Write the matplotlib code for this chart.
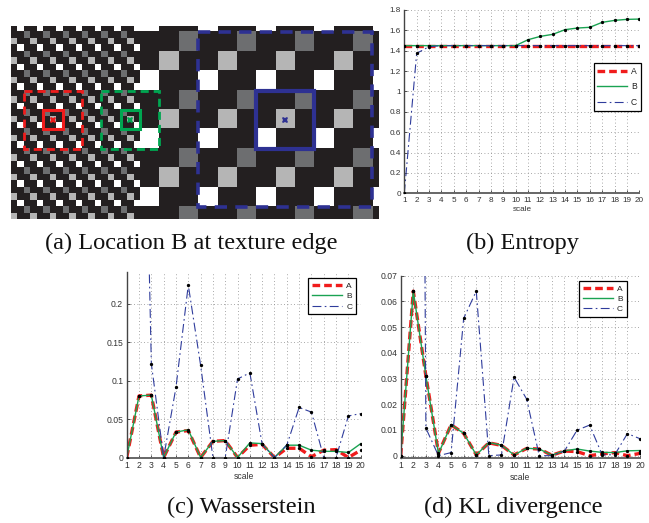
import numpy as np
import matplotlib
matplotlib.use("Agg")
import matplotlib.pyplot as plt
from matplotlib.patches import Rectangle

W, H = 649, 523

# ---- panel (a): texture, tiles of colour codes (0 black, 1 dark grey, 2 light grey, 3 white)
fine_tile = [[0, 3, 0],
             [0, 0, 1],
             [2, 0, 0]]
coarse_tile = [[0, 1, 0],
               [2, 0, 0],
               [0, 0, 3]]
palette = ["#231f20", "#6d6e70", "#b5b5b5", "#ffffff"]

# ---- curves: scale 1..20
scales = list(range(1, 21))

ent_A = [1.45, 1.45, 1.45, 1.45, 1.45, 1.45, 1.45, 1.45, 1.45, 1.45,
         1.45, 1.45, 1.45, 1.45, 1.45, 1.45, 1.45, 1.45, 1.45, 1.45]
ent_B = [1.45, 1.45, 1.45, 1.45, 1.45, 1.45, 1.45, 1.45, 1.45, 1.45,
         1.508, 1.541, 1.561, 1.607, 1.623, 1.63, 1.679, 1.698, 1.708, 1.711]
ent_C = [0.0, 1.374, 1.44, 1.45, 1.45, 1.45, 1.45, 1.45, 1.45, 1.45,
         1.45, 1.45, 1.45, 1.45, 1.45, 1.45, 1.45, 1.45, 1.45, 1.45]

was_A = [0, 0.080, 0.081, 0, 0.033, 0.035, 0, 0.021, 0.022, 0,
         0.016, 0.017, 0, 0.012, 0.012, 0.001, 0.0095, 0.0102, 0.0, 0.0095]
was_B = [0, 0.080, 0.081, 0, 0.033, 0.036, 0, 0.021, 0.022, 0,
         0.019, 0.018, 0, 0.016, 0.016, 0.0095, 0.008, 0.008, 0.0065, 0.018]
was_C = [0.9, 0.85, 0.122, 0, 0.091, 0.224, 0.12, 0, 0, 0.102,
         0.110, 0.017, 0, 0.016, 0.065, 0.059, 0, 0, 0.054, 0.057]

kl_A = [0, 0.064, 0.031, 0.001, 0.012, 0.0087, 0.0003, 0.005, 0.004, 0.0003,
        0.0028, 0.0026, 0.0002, 0.0018, 0.0016, 0.0, 0.0007, 0.0012, 0.0, 0.0009]
kl_B = [0, 0.064, 0.031, 0.0008, 0.012, 0.0087, 0.0003, 0.0051, 0.0041, 0.0003,
        0.0029, 0.0026, 0.0002, 0.0019, 0.0026, 0.0018, 0.0013, 0.0012, 0.0019, 0.002]
kl_C = [0.9, 0.86, 0.0107, 0.0, 0.0012, 0.0534, 0.064, 0.0, 0.0003, 0.0305,
        0.022, 0.0, 0.0, 0.0018, 0.0099, 0.0119, 0.0003, 0.0004, 0.0086, 0.0066]

ent_ticks = [0, 0.2, 0.4, 0.6, 0.8, 1, 1.2, 1.4, 1.6, 1.8]
was_ticks = [0, 0.05, 0.1, 0.15, 0.2]
kl_ticks = [0, 0.01, 0.02, 0.03, 0.04, 0.05, 0.06, 0.07]

RED = "#f01c1c"
GREEN = "#1aa352"
BLUE = "#2f3c9c"
SANS = "Liberation Sans"
SERIF = "Liberation Serif"

fig = plt.figure(figsize=(W / 100, H / 100), dpi=100)


def px_axes(x0, y0, x1, y1):
    return fig.add_axes([x0 / W, 1 - y1 / H, (x1 - x0) / W, (y1 - y0) / H])


# ---------------- (a) texture image
fine = np.tile(np.array(fine_tile), (10, 7))[:30, :20]
coarse = np.kron(np.tile(np.array(coarse_tile)[[2, 0, 1]][:, [2, 0, 1]], (4, 5)),
                 np.ones((3, 3), dtype=int))[2:32, :37]
codes = np.hstack([fine, coarse])
rgb = np.array([matplotlib.colors.to_rgb(c) for c in palette])[codes]

axa = px_axes(11, 26, 378.6, 219.5)
axa.imshow(rgb, extent=(0, 57, 30, 0), interpolation="nearest", aspect="auto")
axa.set_xlim(0, 57)
axa.set_ylim(30, 0)
axa.axis("off")

boxes = [
    ((2, 10), 9, RED, 2.0, (0, (2.9, 1.8))),
    ((5, 13), 3, RED, 2.2, "-"),
    ((14, 10), 9, "#00a651", 2.0, (0, (2.9, 1.8))),
    ((17, 13), 3, "#00a651", 2.2, "-"),
    ((29, 1), 27, "#2e3192", 2.6, (0, (3.4, 2.3))),
    ((38, 10), 9, "#2e3192", 3.0, "-"),
]
for (xy, size, col, lw, ls) in boxes:
    axa.add_patch(Rectangle(xy, size, size, fill=False, edgecolor=col,
                            lw=lw, ls=ls, clip_on=False))
for cx, col in [(6.5, RED), (18.5, "#00a651"), (42.5, "#2e3192")]:
    axa.plot(cx, 14.5, marker="X", ms=5, color=col, mew=0)


# ---------------- line panels
def draw_panel(ax, yA, yB, yC, ylim, ticks, fs):
    ax.plot(scales, yA, color=RED, lw=2.4, ls=(0, (2.3, 1.2)), label="A")
    ax.plot(scales, yB, color=GREEN, lw=1.0, label="B")
    ax.plot(scales, yC, color=BLUE, lw=0.8, ls=(0, (8, 3, 1.5, 3)), label="C")
    for y in (yA, yB, yC):
        ax.plot(scales, y, "o", color="k", ms=2.4, mew=0, zorder=4)
    ax.set_xlim(1, 20)
    ax.set_ylim(*ylim)
    ax.set_xticks(scales)
    ax.set_xticklabels([str(s) for s in scales], family=SANS)
    ax.set_yticks(ticks)
    ax.set_yticklabels([f"{t:g}" for t in ticks], family=SANS)
    ax.grid(True, ls=(0, (1, 3)), lw=0.6, color="#8c8c8c")
    ax.set_axisbelow(True)
    for s in ("top", "right"):
        ax.spines[s].set_visible(False)
    ax.spines["left"].set_color("#444444")
    ax.spines["left"].set_linewidth(1.0)
    ax.spines["bottom"].set_color("#666666")
    ax.spines["bottom"].set_linewidth(1.4)
    ax.tick_params(direction="in", length=2, width=0.6, colors="#333333",
                   labelsize=fs, pad=2.5)
    ax.set_xlabel("scale", fontsize=fs, color="#333333", family=SANS, labelpad=1.5)


def add_legend(ax, right, top, fs, spacing, hl):
    leg = ax.legend(loc="upper right", bbox_to_anchor=(right / W, 1 - top / H),
                    bbox_transform=fig.transFigure, borderaxespad=0,
                    labelspacing=spacing, handlelength=hl,
                    handletextpad=0.5, borderpad=0.45, fancybox=False,
                    framealpha=1, edgecolor="black", prop={"family": SANS, "size": fs})
    leg.get_frame().set_linewidth(0.9)
    for t in leg.get_texts():
        t.set_color("#222222")


axb = px_axes(404.3, 10, 639.3, 193.3)
draw_panel(axb, ent_A, ent_B, ent_C, (0, 1.8), ent_ticks, 5.9)
add_legend(axb, 641, 63, 6.2, 0.75, 3.4)

axc = px_axes(126.7, 272, 360.7, 457.5)
draw_panel(axc, was_A, was_B, was_C, (0, 0.241), was_ticks, 6.2)
add_legend(axc, 356, 278.3, 6.0, 0.3, 3.6)

axd = px_axes(400.7, 275.7, 640, 458)
draw_panel(axd, kl_A, kl_B, kl_C, (-0.0009, 0.07), kl_ticks, 6.2)
add_legend(axd, 626.7, 281, 6.0, 0.3, 3.6)

# ---------------- captions
cap = dict(family=SERIF, fontsize=17.6, ha="center", va="center", color="#111111")
fig.text(191 / W, 1 - 243 / H, "(a) Location B at texture edge", **cap)
fig.text(522 / W, 1 - 243 / H, "(b) Entropy", **cap)
fig.text(241.5 / W, 1 - 507.5 / H, "(c) Wasserstein", **cap)
fig.text(513.5 / W, 1 - 507.5 / H, "(d) KL divergence", **cap)

fig.savefig("out.png", dpi=100)
